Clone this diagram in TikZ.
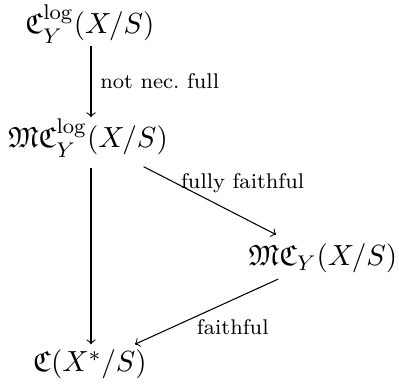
\documentclass[tikz,border=0pt]{standalone}
\usepackage{amssymb}
\begin{document}
\begin{tikzpicture}[x=0.376pt,y=-0.376pt,
  obj/.style={anchor=base,inner sep=2pt,font=\fontsize{10.95}{13}\selectfont},
  arr/.style={->,line width=0.4pt},
  lab/.style={font=\fontsize{8}{9.5}\selectfont}]
\useasboundingbox (0,0) rectangle (399,387);
\node[obj] (top) at (90,34) {$\mathfrak{C}^{\log}_Y(X/S)$};
\node[obj] (mid) at (88,148) {$\mathfrak{MC}^{\log}_Y(X/S)$};
\node[obj] (rgt) at (323,266) {$\mathfrak{MC}_Y(X/S)$};
\node[obj] (bot) at (90,372) {$\mathfrak{C}(X^*/S)$};
\draw[arr,shorten <=-1.2pt,shorten >=-1.5pt] (top.south -| 91,0) -- node[lab,right] {not nec.\ full} (mid.north -| 91,0);
\draw[arr,shorten <=2pt] (mid.south -| 91,0) -- (bot.north -| 91,0);
\draw[arr,shorten <=3pt,shorten >=3pt] (mid) -- node[lab,pos=0.3,anchor=base west,inner sep=0pt,yshift=-1pt] {fully faithful} (rgt);
\draw[arr] (rgt) -- node[lab,pos=0.57,anchor=north west,inner sep=0pt,yshift=-1pt] {faithful} (bot);
\end{tikzpicture}
\end{document}
